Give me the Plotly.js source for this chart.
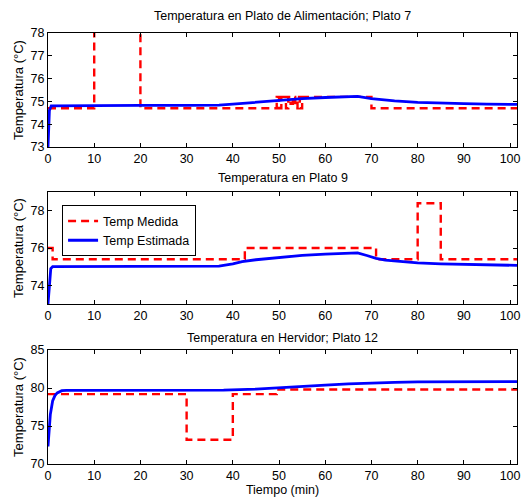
<!DOCTYPE html>
<html><head><meta charset="utf-8">
<script src="https://cdn.plot.ly/plotly-3.0.1.min.js"></script>
<style>body{margin:0;background:#fff}#c{width:521px;height:498px}</style>
</head><body><div id="c"></div>
<script>
// Plato 7 (alimentación)
const t7m = [0, 10, 20, 49, 49.5, 50, 50.5, 51, 51.5, 52, 52.5, 53, 53.5, 54, 54.5, 55, 70, 101.5];
const y7m = [74.7, 80, 74.7, 74.7, 75.2, 74.7, 75.2, 75.2, 74.7, 75.2, 74.9, 75.2, 74.7, 75.2, 74.7, 75.2, 74.7, 74.7];
const t7e = [0, 0.3, 0.7, 10, 20, 30, 37, 40, 45, 50, 55, 60, 65, 67, 70, 75, 80, 85, 90, 95, 101.5];
const y7e = [73, 74.6, 74.8, 74.82, 74.83, 74.83, 74.84, 74.88, 74.97, 75.06, 75.12, 75.17, 75.21, 75.22, 75.12, 75.02, 74.96, 74.92, 74.9, 74.88, 74.87];
// Plato 9
const t9m = [0, 1, 42.6, 71, 80, 85, 101.5];
const y9m = [76.0, 75.4, 76.0, 75.4, 78.4, 75.4, 75.4];
const t9e = [0, 0.6, 1.0, 10, 20, 30, 37, 40, 42, 45, 50, 55, 60, 65, 67, 69, 71, 73, 75, 80, 85, 90, 95, 101.5];
const y9e = [73, 74.9, 75.0, 75.0, 75.01, 75.02, 75.03, 75.15, 75.27, 75.37, 75.5, 75.6, 75.67, 75.72, 75.74, 75.6, 75.45, 75.35, 75.3, 75.2, 75.15, 75.12, 75.1, 75.07];
// Plato 12 (hervidor)
const t12m = [0, 30, 40, 49.5, 101.5];
const y12m = [79.2, 73.2, 79.2, 79.8, 79.8];
const t12e = [0, 0.2, 0.5, 1, 1.5, 2, 2.5, 3, 4, 10, 20, 30, 38, 45, 50, 55, 60, 65, 70, 75, 80, 90, 101.5];
const y12e = [72.3, 74.5, 76.5, 78.3, 79.0, 79.35, 79.55, 79.65, 79.7, 79.7, 79.7, 79.7, 79.72, 79.85, 80.0, 80.2, 80.38, 80.55, 80.68, 80.75, 80.8, 80.83, 80.85];

const titles = ['Temperatura en Plato de Alimentación; Plato 7', 'Temperatura en Plato 9', 'Temperatura en Hervidor; Plato 12'];
const names = ['Temp Medida', 'Temp Estimada'];

const red = {color: 'rgb(255,0,0)', width: 2.4, dash: '8px,5px', shape: 'hv'};
const blue = {color: 'rgb(0,0,255)', width: 2.8};
const F = {family: 'Liberation Sans, Arial, sans-serif', size: 12.5, color: '#000'};
const FY = {family: 'Liberation Sans, Arial, sans-serif', size: 13, color: '#000'};

const data = [
  {x: t7m, y: y7m, mode: 'lines', line: red, xaxis: 'x', yaxis: 'y', showlegend: false},
  {x: t7e, y: y7e, mode: 'lines', line: blue, xaxis: 'x', yaxis: 'y', showlegend: false},
  {x: t9m, y: y9m, mode: 'lines', line: red, xaxis: 'x2', yaxis: 'y2', name: names[0]},
  {x: t9e, y: y9e, mode: 'lines', line: blue, xaxis: 'x2', yaxis: 'y2', name: names[1]},
  {x: t12m, y: y12m, mode: 'lines', line: red, xaxis: 'x3', yaxis: 'y3', showlegend: false},
  {x: t12e, y: y12e, mode: 'lines', line: blue, xaxis: 'x3', yaxis: 'y3', showlegend: false}
];

function xa(anchor){
  return {range: [0, 101.5], tickvals: [0,10,20,30,40,50,60,70,80,90,100], ticks: 'inside', ticklen: 4,
    showline: true, mirror: 'allticks', linecolor: '#000', linewidth: 1, tickcolor: '#000', showgrid: false, zeroline: false,
    tickfont: F, anchor: anchor, domain: [0, 1]};
}
function ya(anchor, dom, rng, tv){
  return {range: rng, tickvals: tv, ticks: 'inside', ticklen: 4, showline: true, mirror: 'allticks', linecolor: '#000',
    linewidth: 1, tickcolor: '#000', showgrid: false, zeroline: false, tickfont: F, anchor: anchor, domain: dom,
    title: {text: 'Temperatura (°C)', font: FY, standoff: 4}};
}
const x1 = xa('y'), x2 = xa('y2'), x3 = xa('y3');
x3.title = {text: 'Tiempo (min)', font: F, standoff: 1};

const layout = {
  width: 521, height: 498, margin: {l: 48, r: 4, t: 33, b: 34},
  paper_bgcolor: '#fff', plot_bgcolor: '#fff', font: F,
  xaxis: x1, xaxis2: x2, xaxis3: x3,
  yaxis: ya('x', [0.7355, 1], [73, 78], [73,74,75,76,77,78]),
  yaxis2: ya('x2', [0.3712, 0.6311], [73, 79], [74,76,78]),
  yaxis3: ya('x3', [0, 0.2645], [70, 85], [70,75,80,85]),
  showlegend: true,
  legend: {x: 0.03, y: 0.6311 - 0.031, xanchor: 'left', yanchor: 'top', bgcolor: '#fff', bordercolor: '#000', borderwidth: 1,
    font: F, tracegroupgap: 0, itemwidth: 30},
  annotations: [
    {text: titles[0], xref: 'paper', yref: 'paper', x: 0.5, y: 1, yshift: 8, yanchor: 'bottom', showarrow: false, font: F},
    {text: titles[1], xref: 'paper', yref: 'paper', x: 0.5, y: 0.6311, yshift: 5, yanchor: 'bottom', showarrow: false, font: F},
    {text: titles[2], xref: 'paper', yref: 'paper', x: 0.5, y: 0.2645, yshift: 3, yanchor: 'bottom', showarrow: false, font: F}
  ]
};
Plotly.newPlot('c', data, layout, {staticPlot: true});
</script></body></html>
